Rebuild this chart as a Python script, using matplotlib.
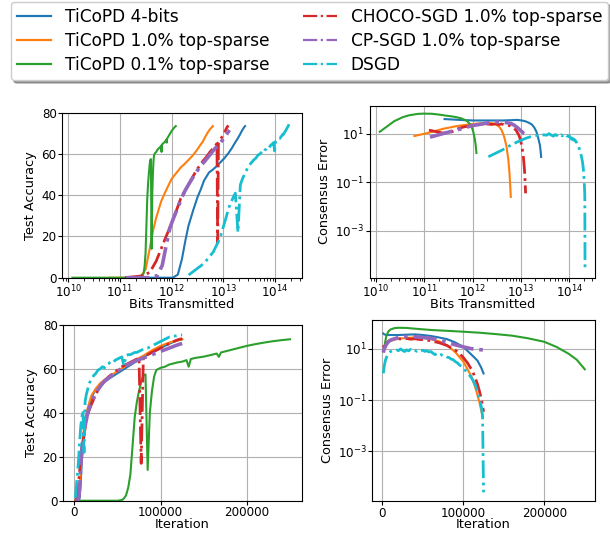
import numpy as np
import matplotlib
matplotlib.use("Agg")
import matplotlib.pyplot as plt
from matplotlib.ticker import FixedLocator, NullLocator

# ---------------- data ----------------
labels = ["TiCoPD 4-bits", "TiCoPD 1.0% top-sparse", "TiCoPD 0.1% top-sparse",
          "CHOCO-SGD 1.0% top-sparse", "CP-SGD 1.0% top-sparse", "DSGD"]
colors = ["#1f77b4", "#ff7f0e", "#2ca02c", "#d62728", "#9467bd", "#17becf"]
styles = ["-", "-", "-", "-.", "-.", "-."]
widths = [1.5, 1.5, 1.5, 2.0, 2.6, 2.0]
# bits transmitted per iteration for each method
bits_per_iter = [2.1e8, 5.0e7, 4.8e6, 1.0e8, 1.05e8, 1.7e9]

# --- test accuracy vs iteration ---
it_acc_4bit = [1250, 2500, 3750, 5000, 6250, 7500, 8750, 10000, 12500, 15000, 17500, 20000,
               25000, 30000, 35000, 40000, 50000, 60000, 70000, 80000, 90000, 100000,
               110000, 120000, 125000]
acc_4bit = [0, 0, 0, 0, 1.5, 9, 18, 25, 33, 39, 43, 47, 51, 52.5, 54, 55.5, 58, 60.5, 63,
            65.5, 67.5, 69.5, 71.5, 73, 73.5]

it_acc_top1 = [1250, 2500, 3750, 5000, 6250, 7500, 8750, 10000, 12500, 15000, 17500, 20000,
               25000, 30000, 35000, 40000, 50000, 60000, 70000, 80000, 90000, 100000,
               110000, 120000, 125000]
acc_top1 = [0, 0, 0, 0.5, 4, 14, 23, 29, 37, 41.5, 45, 48, 51, 53.5, 55, 56.5, 59, 61.5, 64,
            66, 68.5, 70.5, 72, 73, 73.5]

it_acc_top01 = [2500, 10000, 20000, 30000, 40000, 50000, 55000, 57500, 60000, 62500, 65000,
                67500, 70000, 72500, 75000, 77500, 80000, 82500, 85000, 87500, 90000, 92500,
                95000, 100000, 105000, 110000, 115000, 120000, 125000, 130000, 132500,
                135000, 140000, 150000, 160000, 165000, 167500, 170000, 180000, 190000,
                200000, 210000, 220000, 230000, 240000, 250000]
acc_top01 = [0, 0, 0, 0, 0, 0, 0.3, 1, 2.5, 6, 12, 25, 38, 45, 50, 54, 57, 57.5, 14, 40, 50,
             56.5, 59.5, 60.5, 61, 62, 62.5, 63, 63.3, 64, 61, 64.5, 65, 65.6, 66.5, 67, 65.5,
             67.5, 68.5, 69.5, 70.5, 71.3, 72, 72.6, 73.1, 73.5]

it_acc_choco = [1250, 2500, 3750, 5000, 6250, 7500, 8750, 10000, 12500, 15000, 17500, 20000,
                25000, 30000, 35000, 40000, 45000, 50000, 55000, 60000, 65000, 70000, 75000,
                77500, 80000, 85000, 90000, 95000, 100000, 105000, 110000, 115000, 120000,
                125000]
acc_choco = [0, 0.8, 2.5, 8, 14, 19, 23, 26.5, 33, 38.5, 41.5, 44, 48.5, 52, 54.5, 56.5, 58,
             59.5, 61, 62, 63, 64, 65, 17, 65.5, 66.5, 67.5, 68.5, 69.5, 70.5, 71.5, 72.5,
             73.3, 73.8]

it_acc_cpsgd = [1250, 2500, 3750, 5000, 6250, 7500, 8750, 10000, 12500, 15000, 17500, 20000,
                25000, 30000, 35000, 40000, 50000, 60000, 70000, 80000, 90000, 100000,
                110000, 120000, 125000]
acc_cpsgd = [0, 0, 0, 1, 6, 16, 24, 28, 34, 39, 42.5, 45, 49, 52, 54.5, 56, 59, 61.5, 63.5,
             65, 66.5, 68, 69.5, 71, 71.6]

it_acc_dsgd = [1250, 2500, 3750, 5000, 6250, 7500, 8750, 10000, 11250, 12500, 13750, 15000,
               17500, 20000, 22500, 25000, 27500, 30000, 32500, 35000, 37500, 40000, 42500,
               45000, 47500, 50000, 52500, 55000, 57500, 60000, 62500, 65000, 67500, 70000,
               72500, 75000, 77500, 80000, 82500, 85000, 87500, 90000, 92500, 95000, 97500,
               100000, 102500, 105000, 107500, 110000, 112500, 115000, 117500, 120000,
               122500, 125000]
acc_dsgd = [1.3, 7, 12.5, 19, 27, 34, 38, 41, 22, 45, 48, 50, 53.5, 55.5, 57, 58, 59.5, 60,
            61, 60.5, 62, 62.5, 63.5, 63, 64, 64.5, 65, 65.5, 61.5, 66, 66.5, 66.5, 67, 67.5,
            67.5, 68, 68.5, 69, 69.5, 69.5, 70, 70.5, 71, 71.5, 72, 72.5, 73, 73.5, 74, 74.5,
            74.5, 75, 75, 75.2, 75.4, 75.5]

# --- consensus error vs iteration ---
it_ce_4bit = [1250, 2500, 5000, 10000, 20000, 30000, 40000, 50000, 60000, 70000, 80000,
              90000, 100000, 110000, 117500, 122000, 125000]
ce_4bit = [40, 37, 35, 35, 35, 36, 37, 35, 32, 28, 24, 18, 12, 6, 3.5, 1.9, 1.1]

it_ce_top1 = [1250, 2500, 5000, 10000, 20000, 30000, 40000, 50000, 60000, 70000, 80000,
              90000, 100000, 110000, 115000, 120000, 123500]
ce_top1 = [8, 11, 16, 21, 25, 27, 28, 27, 24, 20, 14, 7.5, 3.2, 0.85, 0.3, 0.08, 0.025]

it_ce_top01 = [2500, 5000, 7500, 10000, 15000, 20000, 30000, 45000, 60000, 80000, 100000,
               120000, 140000, 160000, 180000, 200000, 215000, 230000, 240000, 250000]
ce_top01 = [12, 33, 48, 57, 65, 67, 66, 60, 55, 51, 47, 43, 38, 33, 26, 19, 12, 6.5, 3.8, 1.6]

it_ce_choco = [1250, 2500, 3750, 5000, 6250, 7500, 10000, 12500, 15000, 17500, 20000, 25000,
               30000, 35000, 40000, 45000, 50000, 55000, 60000, 65000, 70000, 75000, 80000,
               85000, 90000, 95000, 100000, 105000, 110000, 112500, 115000, 117500, 120000,
               122500, 125000]
ce_choco = [14, 10.5, 12, 16, 18.5, 20, 21.5, 23, 24, 23, 25, 24, 25.5, 24, 25, 23.5, 23, 22,
            21, 19, 17.5, 15.5, 13.5, 11, 9, 6.8, 4.6, 2.9, 1.6, 1.1, 0.7, 0.42, 0.22, 0.1,
            0.035]

it_ce_cpsgd = [1250, 2500, 5000, 7500, 10000, 15000, 20000, 30000, 40000, 50000, 60000,
               70000, 80000, 90000, 100000, 110000, 118000, 125000]
ce_cpsgd = [7.2, 10.5, 15, 19, 22, 25, 28, 30, 30, 28, 26, 22, 18, 14.5, 12, 10.2, 9.5, 9.1]

it_ce_dsgd = [1250, 2500, 3750, 5000, 6250, 7500, 8750, 10000, 12500, 15000, 17500, 20000,
              22500, 25000, 27500, 30000, 32500, 35000, 37500, 40000, 42500, 45000, 47500,
              50000, 52500, 55000, 57500, 60000, 62500, 65000, 67500, 70000, 72500, 75000,
              77500, 80000, 82500, 85000, 87500, 90000, 92500, 95000, 97500, 100000, 102500,
              105000, 107500, 110000, 112500, 115000, 117500, 120000, 122500, 123750, 125000]
ce_dsgd = [1.12, 2.2, 3.5, 4.6, 5.6, 6.5, 7.2, 7.8, 8.5, 8.2, 9.0, 8.6, 10.0, 8.8, 7.9, 9.2,
           8.4, 9.6, 8.3, 9.0, 8.1, 9.3, 8.6, 8.9, 8.0, 8.5, 7.6, 7.9, 6.8, 6.0, 6.6, 5.6, 6.0,
           5.3, 5.5, 4.8, 4.6, 4.0, 3.8, 3.2, 2.9, 2.4, 2.1, 1.7, 1.45, 1.2, 0.95, 0.75, 0.55,
           0.38, 0.22, 0.12, 0.05, 0.025, 2.5e-5]

acc_series = [(it_acc_4bit, acc_4bit), (it_acc_top1, acc_top1), (it_acc_top01, acc_top01),
              (it_acc_choco, acc_choco), (it_acc_cpsgd, acc_cpsgd), (it_acc_dsgd, acc_dsgd)]
ce_series = [(it_ce_4bit, ce_4bit), (it_ce_top1, ce_top1), (it_ce_top01, ce_top01),
             (it_ce_choco, ce_choco), (it_ce_cpsgd, ce_cpsgd), (it_ce_dsgd, ce_dsgd)]

# ---------------- figure ----------------
plt.rcParams["font.family"] = ["DejaVu Sans"]
W, H = 610, 533
fig = plt.figure(figsize=(W / 100, H / 100), dpi=100)


def rect(l, t, r, b):
    return [l / W, 1 - b / H, (r - l) / W, (b - t) / H]


ax_tl = fig.add_axes(rect(62.3, 112.7, 301.5, 277.7))
ax_tr = fig.add_axes(rect(369.7, 106.0, 595.0, 277.7))
ax_bl = fig.add_axes(rect(63.3, 325.0, 301.7, 500.7))
ax_br = fig.add_axes(rect(372.3, 320.0, 595.0, 501.0))

handles = []
for i in range(6):
    it_a, a = acc_series[i]
    it_c, c = ce_series[i]
    kw = dict(color=colors[i], linestyle=styles[i], linewidth=widths[i])
    ax_tl.plot(np.array(it_a) * bits_per_iter[i], a, **kw)
    ax_bl.plot(it_a, a, **kw)
    ax_tr.plot(np.array(it_c) * bits_per_iter[i], c, **kw)
    ax_br.plot(it_c, c, **kw)
    handles.append(plt.Line2D([], [], color=colors[i], linestyle=styles[i], linewidth=1.6))

for ax in (ax_tl, ax_tr):
    ax.set_xscale("log")
    ax.set_xlabel("Bits Transmitted", fontsize=9.3, labelpad=-1)
for ax in (ax_tr, ax_br):
    ax.set_yscale("log")
    ax.set_ylabel("Consensus Error", fontsize=9.3, labelpad=3)
    ax.yaxis.set_major_locator(FixedLocator([1e-3, 1e-1, 1e1]))
    ax.yaxis.set_minor_locator(NullLocator())
for ax in (ax_tl, ax_bl):
    ax.set_ylim(0, 80)
    ax.set_yticks([0, 20, 40, 60, 80])
    ax.set_ylabel("Test Accuracy", fontsize=9.3, labelpad=3)
for ax in (ax_bl, ax_br):
    ax.set_xlabel("Iteration", fontsize=9.3, labelpad=-1)
    ax.set_xticks([0, 100000, 200000])
    ax.set_xticklabels(["0", "100000", "200000"])

ax_tl.set_xlim(10 ** 9.884, 10 ** 14.51)
ax_tr.set_xlim(10 ** 9.870, 10 ** 14.534)
ax_tr.set_ylim(10 ** -4.93, 10 ** 2.14)
ax_bl.set_xlim(-12750, 263500)
ax_br.set_xlim(-12350, 262600)
ax_br.set_ylim(10 ** -4.94, 10 ** 2.13)

for ax in (ax_tl, ax_tr, ax_bl, ax_br):
    ax.grid(True, which="major", color="#b0b0b0", linewidth=0.8)
    ax.tick_params(axis="both", which="major", labelsize=8.6, length=3, pad=1)
    ax.tick_params(axis="both", which="minor", length=1.8)

fig.legend(handles, labels, loc="upper center", bbox_to_anchor=(0.5074, 1 - 2 / H),
           ncol=2, fontsize=12.25, shadow=True, frameon=True, borderaxespad=0,
           labelspacing=0.36, borderpad=0.35, columnspacing=2.0, handletextpad=0.8)

fig.savefig("out.png", dpi=100)
